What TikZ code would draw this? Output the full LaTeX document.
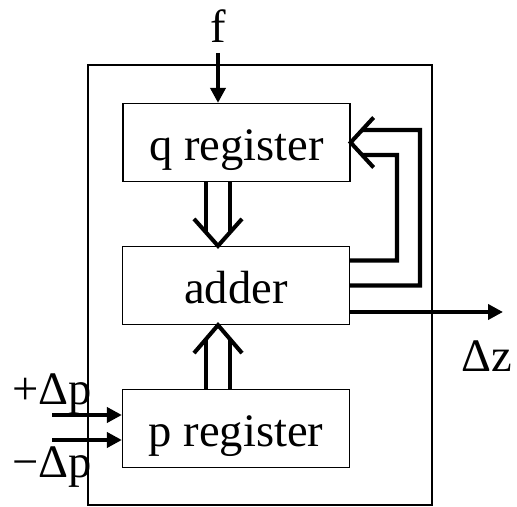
\documentclass[tikz,border=0pt]{standalone}
\usepackage{fontspec}
\setmainfont{Liberation Serif}
\usetikzlibrary{arrows.meta, positioning, calc}

\begin{document}
\begin{tikzpicture}[
    every node/.style={font=\fontsize{26.5}{30}\selectfont, inner sep=0pt},
    rnode/.style={draw, line width=0.7pt, minimum width=4.54cm, minimum height=1.56cm,
                  text height=0.72cm, text depth=0cm},
    arr/.style={-{Triangle[length=0.3cm, width=0.3cm]}, line width=2.3pt},
    bus/.style={line width=2.3pt}
]
\useasboundingbox (0,0) rectangle (10.34,10.14);
% Outer chip outline
\node[draw, line width=0.7pt, minimum width=6.88cm, minimum height=8.8cm] (chip) at (5.2,4.44) {};
% Registers and adder
\node[rnode] (Q) at (4.73,7.29) {q register};
\node[rnode] (ADD) at (4.72,4.43) {adder};
\node[rnode] (P) at (4.72,1.57) {p register};
% Input f at the top
\node[anchor=base] (f) at (4.36,9.28) {f};
\coordinate (fin) at (4.36,9.08);
\draw[arr] (fin) -- (fin |- Q.north);
% Bus q -> adder, open head
\coordinate (qtip) at (ADD.north -| fin);
\draw[bus] ($(qtip)+(-0.48,0.54)$) -- (qtip) -- ($(qtip)+(0.48,0.54)$);
\draw[bus] ($(qtip)+(-0.24,0.27)$) -- ($(Q.south -| qtip)+(-0.24,0)$);
\draw[bus] ($(qtip)+(0.24,0.27)$) -- ($(Q.south -| qtip)+(0.24,0)$);
% Bus p -> adder
\coordinate (ptip) at (ADD.south -| fin);
\draw[bus] ($(ptip)+(-0.48,-0.56)$) -- (ptip) -- ($(ptip)+(0.48,-0.56)$);
\draw[bus] ($(ptip)+(-0.24,-0.28)$) -- ($(P.north -| ptip)+(-0.24,0)$);
\draw[bus] ($(ptip)+(0.24,-0.28)$) -- ($(P.north -| ptip)+(0.24,0)$);
% Feedback adder -> q register
\draw[bus] ($(Q.east)+(0.46,0.5)$) -- (Q.east) -- ($(Q.east)+(0.46,-0.5)$);
\coordinate (fbo) at (8.4,7.54);
\coordinate (fbi) at (7.94,7.04);
\draw[bus] (ADD.east) -| (fbo) -- ($(Q.east)+(0.23,0.25)$);
\draw[bus] ($(ADD.east)+(0,0.5)$) -| (fbi) -- ($(Q.east)+(0.23,-0.25)$);
% Output
\coordinate (zout) at (10.06,3.9);
\draw[arr] (ADD.east |- zout) -- (zout);
\node[anchor=base] (dz) at (9.74,2.7) {Δz};
% Inputs to p register
\coordinate (pin1) at (1.04,1.84);
\coordinate (pin2) at (1.04,1.34);
\draw[arr] (pin1) -- (pin1 -| P.west);
\draw[arr] (pin2) -- (pin2 -| P.west);
\node[anchor=base west] (dpplus) at (0.24,2.04) {+Δp};
\node[anchor=base west] (dpminus) at (0.24,0.58) {−Δp};
\end{tikzpicture}
\end{document}
